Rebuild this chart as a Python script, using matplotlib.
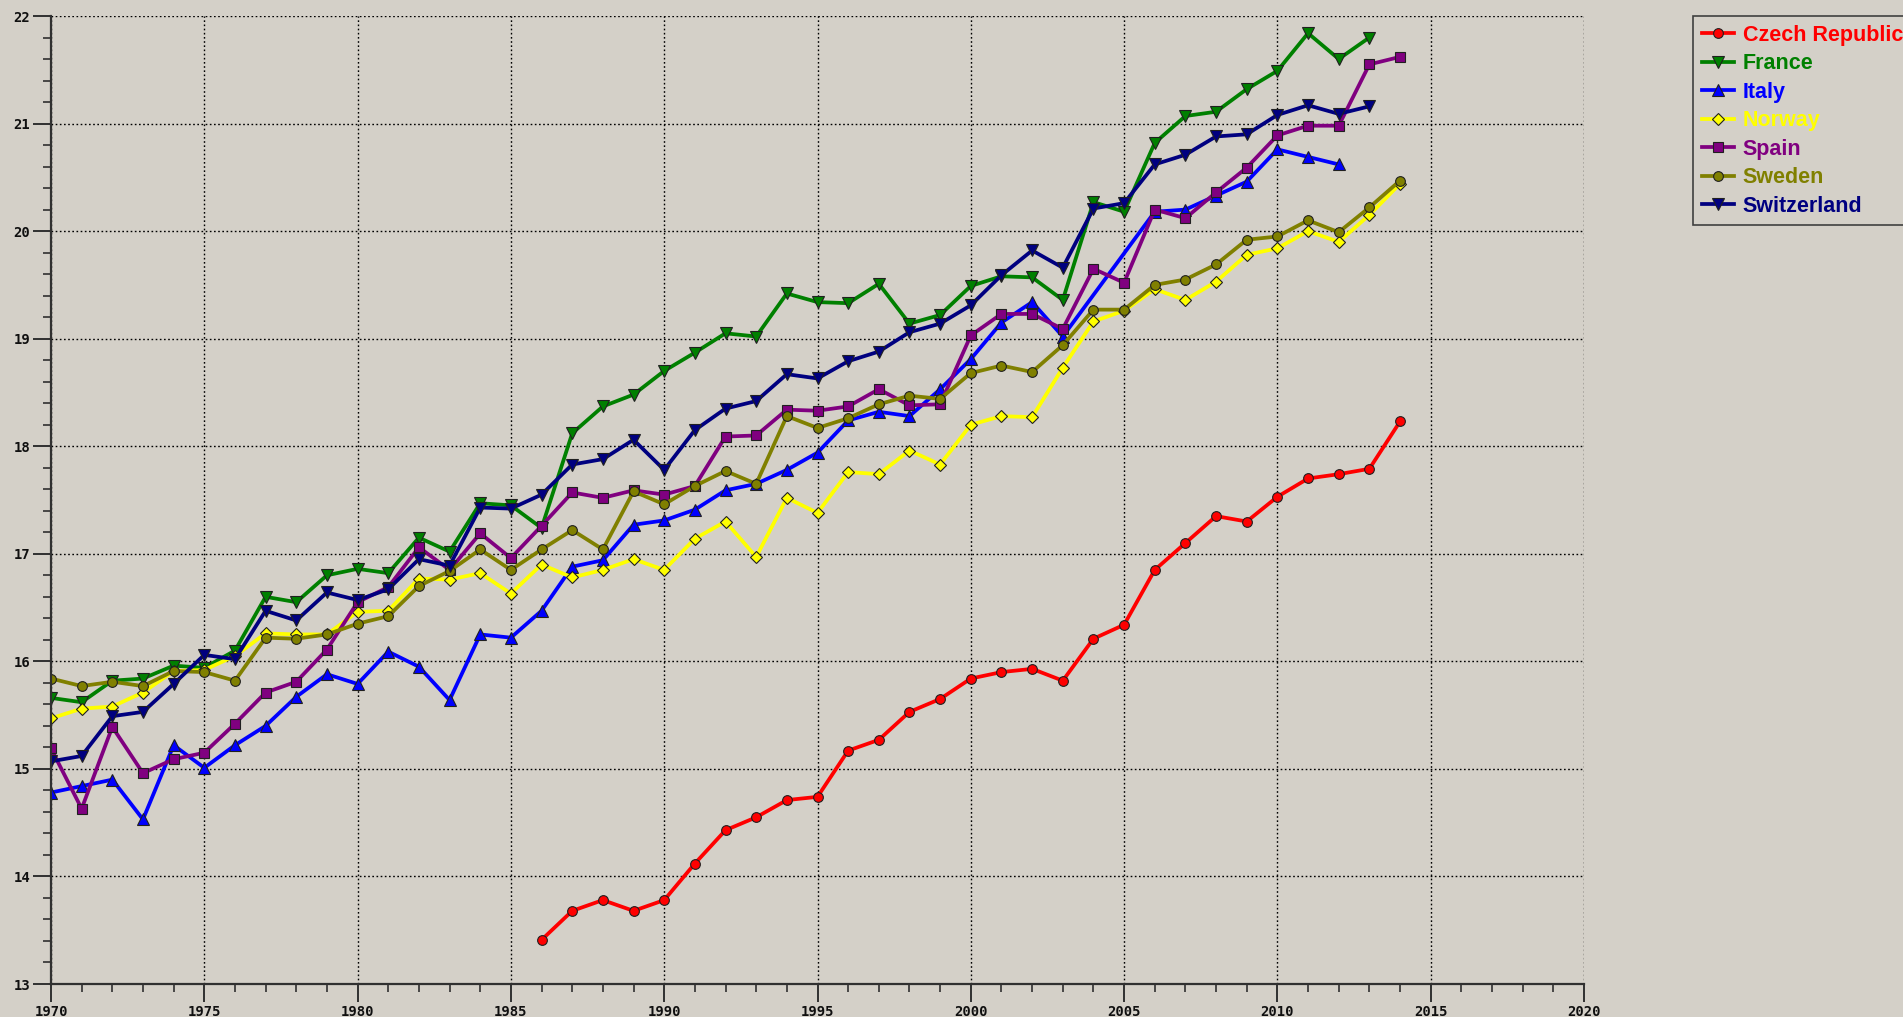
import matplotlib
matplotlib.use("Agg")
import matplotlib.pyplot as plt
from matplotlib.ticker import MultipleLocator

countries = ["Czech Republic", "France", "Italy", "Norway", "Spain", "Sweden", "Switzerland"]

czech_years = list(range(1986, 2015))
czech = [13.41, 13.68, 13.78, 13.68, 13.78, 14.12, 14.43, 14.55, 14.71, 14.74,
         15.17, 15.27, 15.53, 15.65, 15.84, 15.90, 15.93, 15.82, 16.21, 16.34,
         16.85, 17.10, 17.35, 17.30, 17.53, 17.70, 17.74, 17.79, 18.23]

france_years = list(range(1970, 2014))
france = [15.66, 15.62, 15.82, 15.84, 15.96, 15.94, 16.10, 16.60, 16.55, 16.80,
          16.86, 16.82, 17.15, 17.02, 17.47, 17.45, 17.24, 18.12, 18.37, 18.48,
          18.70, 18.87, 19.05, 19.02, 19.42, 19.34, 19.33, 19.51, 19.14, 19.22,
          19.49, 19.58, 19.57, 19.36, 20.27, 20.18, 20.82, 21.07, 21.11, 21.32,
          21.49, 21.84, 21.60, 21.80]

italy_years = list(range(1970, 2004)) + list(range(2006, 2013))
italy = [14.78, 14.84, 14.90, 14.53, 15.22, 15.01, 15.22, 15.40, 15.67, 15.88,
         15.79, 16.09, 15.95, 15.64, 16.25, 16.22, 16.47, 16.88, 16.94, 17.27,
         17.31, 17.41, 17.59, 17.65, 17.78, 17.94, 18.24, 18.32, 18.28, 18.53,
         18.81, 19.15, 19.34, 19.02,
         20.18, 20.20, 20.33, 20.46, 20.76, 20.69, 20.62]

norway_years = list(range(1970, 2015))
norway = [15.47, 15.56, 15.58, 15.71, 15.91, 15.92, 16.05, 16.26, 16.25, 16.25,
          16.46, 16.47, 16.77, 16.76, 16.82, 16.63, 16.90, 16.78, 16.85, 16.95,
          16.85, 17.14, 17.30, 16.97, 17.52, 17.38, 17.76, 17.74, 17.96, 17.83,
          18.20, 18.28, 18.27, 18.73, 19.16, 19.26, 19.46, 19.36, 19.53, 19.78,
          19.84, 20.00, 19.90, 20.15, 20.44]

spain_years = list(range(1970, 2015))
spain = [15.19, 14.63, 15.39, 14.96, 15.09, 15.15, 15.42, 15.71, 15.81, 16.11,
         16.55, 16.69, 17.06, 16.85, 17.19, 16.96, 17.26, 17.57, 17.52, 17.59,
         17.55, 17.63, 18.09, 18.10, 18.34, 18.33, 18.37, 18.53, 18.38, 18.39,
         19.03, 19.23, 19.23, 19.09, 19.65, 19.52, 20.20, 20.12, 20.36, 20.59,
         20.89, 20.98, 20.98, 21.55, 21.62]

sweden_years = list(range(1970, 2015))
sweden = [15.84, 15.77, 15.81, 15.77, 15.91, 15.90, 15.82, 16.22, 16.21, 16.25,
          16.35, 16.42, 16.70, 16.84, 17.04, 16.85, 17.04, 17.22, 17.04, 17.58,
          17.46, 17.63, 17.77, 17.65, 18.28, 18.17, 18.26, 18.39, 18.47, 18.44,
          18.68, 18.75, 18.69, 18.94, 19.27, 19.27, 19.50, 19.55, 19.69, 19.92,
          19.95, 20.10, 19.99, 20.22, 20.47]

switzerland_years = list(range(1970, 2014))
switzerland = [15.07, 15.12, 15.49, 15.53, 15.79, 16.06, 16.02, 16.47, 16.38, 16.64,
               16.57, 16.67, 16.95, 16.89, 17.43, 17.42, 17.55, 17.83, 17.88, 18.06,
               17.78, 18.15, 18.35, 18.42, 18.67, 18.63, 18.79, 18.88, 19.06, 19.14,
               19.31, 19.59, 19.82, 19.66, 20.21, 20.26, 20.62, 20.71, 20.88, 20.90,
               21.08, 21.17, 21.09, 21.16]

x_ticks = [1970, 1975, 1980, 1985, 1990, 1995, 2000, 2005, 2010, 2015, 2020]
y_ticks = [13, 14, 15, 16, 17, 18, 19, 20, 21, 22]

series = [
    (czech_years, czech, "#ff0000", "o", 7),
    (france_years, france, "#008000", "v", 8),
    (italy_years, italy, "#0000ff", "^", 8),
    (norway_years, norway, "#ffff00", "D", 6),
    (spain_years, spain, "#800080", "s", 6.5),
    (sweden_years, sweden, "#808000", "o", 7),
    (switzerland_years, switzerland, "#000080", "v", 8),
]

BG = "#d4d0c8"
fig = plt.figure(figsize=(19.03, 10.17), dpi=100, facecolor=BG)
ax = fig.add_axes([51 / 1903, 1 - 984 / 1017, (1584 - 51) / 1903, (984 - 16) / 1017])
ax.set_facecolor(BG)

handles = []
for (yrs, vals, col, mk, ms), name in zip(series, countries):
    h, = ax.plot(yrs, vals, color=col, lw=2.7, marker=mk, markersize=ms,
                 markerfacecolor=col, markeredgecolor="#202020", markeredgewidth=0.8,
                 label=name, solid_joinstyle="round")
    handles.append(h)

ax.set_xlim(1970, 2020)
ax.set_ylim(13, 22)
ax.set_xticks(x_ticks)
ax.set_yticks(y_ticks)
ax.xaxis.set_minor_locator(MultipleLocator(1))
ax.yaxis.set_minor_locator(MultipleLocator(0.2))
ax.set_xticklabels([str(v) for v in x_ticks])
ax.set_yticklabels([str(v) for v in y_ticks])

for s in ["top", "right"]:
    ax.spines[s].set_visible(False)
for s in ["left", "bottom"]:
    ax.spines[s].set_color("#303030")
    ax.spines[s].set_linewidth(1.6)

ax.tick_params(which="major", direction="out", length=13, width=1.4, color="#303030",
               pad=2)
ax.tick_params(which="minor", direction="out", length=6, width=1.2, color="#303030")
for lab in ax.get_xticklabels() + ax.get_yticklabels():
    lab.set_fontfamily("DejaVu Sans Mono")
    lab.set_fontweight("bold")
    lab.set_fontsize(10)
    lab.set_color("#101010")

ax.grid(True, which="major", color="#000000", linestyle=(0, (1.2, 1.8)), linewidth=1.0)
ax.set_axisbelow(True)

leg = fig.legend(handles=handles, loc="upper left",
                 bbox_to_anchor=(1693 / 1903, 1 - 16 / 1017),
                 prop={"family": "Liberation Sans", "weight": "bold", "size": 15.5},
                 frameon=True, fancybox=False, facecolor=BG, edgecolor="#404040",
                 framealpha=1, handlelength=1.5, handletextpad=0.4,
                 labelspacing=0.35, borderpad=0.4, borderaxespad=0)
leg.get_frame().set_linewidth(1.2)
for txt, (yrs, vals, col, mk, ms) in zip(leg.get_texts(), series):
    txt.set_color(col)

fig.savefig("out.png", dpi=100, facecolor=BG)
